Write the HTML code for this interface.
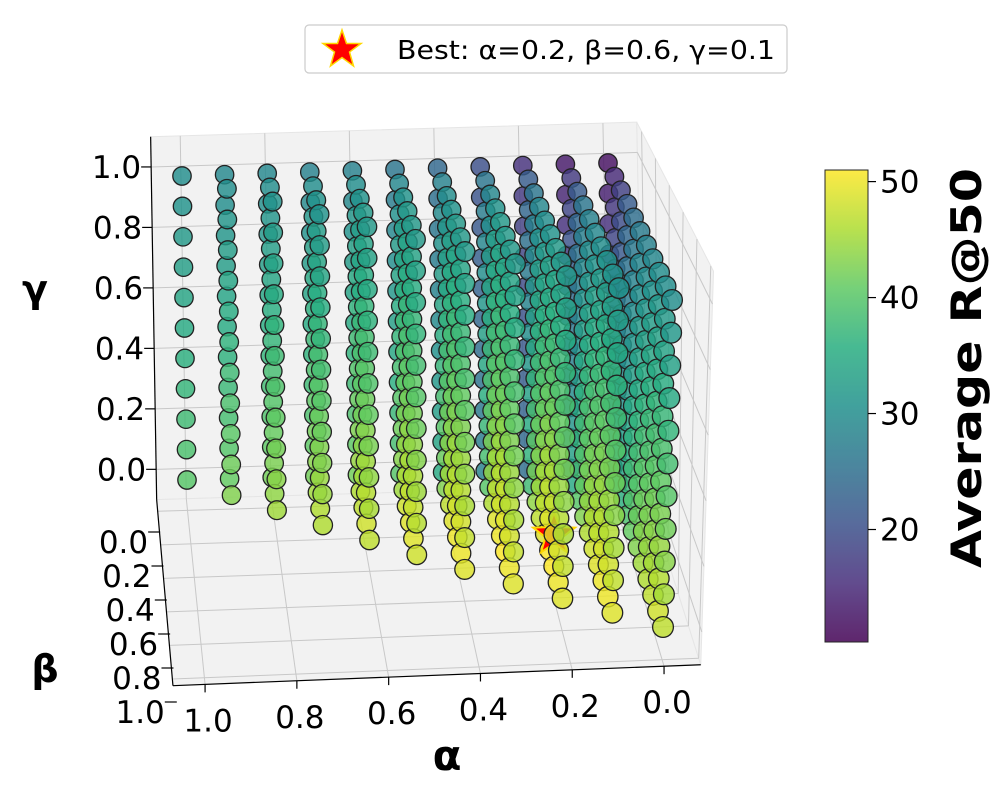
<!DOCTYPE html>
<html><head><meta charset="utf-8"><style>
html,body{margin:0;padding:0;background:#fff;}
svg{display:block;font-family:"DejaVu Sans","Liberation Sans",sans-serif;}
</style></head><body>
<svg id="chart" width="997" height="812" viewBox="0 0 997 812" xmlns="http://www.w3.org/2000/svg">
<defs>
<linearGradient id="viridis" x1="0" y1="1" x2="0" y2="0">
<stop offset="0" stop-color="#440154"/><stop offset="0.125" stop-color="#472d7b"/><stop offset="0.25" stop-color="#3b528b"/><stop offset="0.375" stop-color="#2c728e"/><stop offset="0.5" stop-color="#21918c"/><stop offset="0.625" stop-color="#28ae80"/><stop offset="0.75" stop-color="#5ec962"/><stop offset="0.875" stop-color="#addc30"/><stop offset="1" stop-color="#fde725"/>
</linearGradient>
</defs>
<g id="panes"></g>
<g id="grid"></g>
<g id="points"></g>
<g id="ticks" font-size="31" fill="#000"></g>
<text x="35" y="302" font-size="38" font-weight="bold" text-anchor="middle">γ</text>
<text x="45" y="682" font-size="38" font-weight="bold" text-anchor="middle">β</text>
<text x="447" y="770" font-size="42" font-weight="bold" text-anchor="middle">α</text>
<g>
<rect x="305" y="25" width="482" height="48" rx="4" fill="#fff" stroke="#ccc" stroke-width="1.2"/>
<polygon points="342,30 346.5,43.5 361,43.5 349.5,52 353.5,66 342,57.5 330.5,66 334.5,52 323,43.5 337.5,43.5" fill="#ff0000" stroke="#ffd700" stroke-width="1.5"/>
<text x="397" y="59" font-size="26" textLength="378" lengthAdjust="spacingAndGlyphs">Best: α=0.2, β=0.6, γ=0.1</text>
</g>
<g>
<rect x="825" y="170" width="43" height="472" fill="url(#viridis)" opacity="0.85" stroke="#000" stroke-width="1"/>
<g id="cbticks" font-size="31"></g>
<text transform="translate(981,368) rotate(-90)" font-size="42" font-weight="bold" text-anchor="middle" textLength="400" lengthAdjust="spacingAndGlyphs">Average R@50</text>
</g>
</svg>
<script>
// data: values at gamma=0 (low) and gamma=1 (high) per alpha index (alpha=i/10), beta index j
const lowVals = [
 [30,33,36,39,41,43,45,46,47,48,47],
 [26,35,40,43,46,48,49,50,50,49],
 [25,38,44,47,49,51,51,50,49],
 [28,40,46,49,50,51,50,49],
 [35,43,47,49,50,50,49],
 [40,45,48,49,49,48],
 [42,46,47,48,47],
 [42,45,46,46],
 [42,44,45],
 [41,43],
 [40]
];
const highVals = [
 [12,15,18,22,25,27,28,29,30,30,30],
 [13,17,22,26,28,29,30,31,31,31],
 [16,22,26,29,30,31,32,32,32],
 [20,26,29,31,32,32,32,32],
 [24,28,30,31,32,32,32],
 [26,29,31,32,32,32],
 [28,30,31,32,32],
 [28,30,31,31],
 [29,30,31],
 [29,30],
 [30]
];
const gammaLevels = [0,0.1,0.2,0.3,0.4,0.5,0.6,0.7,0.8,0.9,1.0];
const gammaTicks = ["0.0","0.2","0.4","0.6","0.8","1.0"];
const betaTicks = ["0.0","0.2","0.4","0.6","0.8","1.0"];
const alphaTicks = ["0.0","0.2","0.4","0.6","0.8","1.0"];
const cbTicks = [20,30,40,50];
const best = [0.2,0.6,0.1];
const vmin = 10.3, vmax = 51;

const C = {
 '000':[613,467],'001':[608,163],'010':[663,627],'011':[672,300],
 '100':[187,480],'101':[182,176],'110':[204,645],'111':[200,318]
};
function P(a,b,g){
 let x=0,y=0;
 for(const ia of [0,1])for(const ib of [0,1])for(const ig of [0,1]){
  const w=(ia?a:1-a)*(ib?b:1-b)*(ig?g:1-g);
  const c=C[''+ia+ib+ig]; x+=w*c[0]; y+=w*c[1];
 }
 return [x,y];
}
const NS="http://www.w3.org/2000/svg";
function mk(tag,attrs,parent){const e=document.createElementNS(NS,tag);for(const k in attrs)e.setAttribute(k,attrs[k]);parent.appendChild(e);return e;}
const vir=[[68,1,84],[71,45,123],[59,82,139],[44,114,142],[33,145,140],[40,174,128],[94,201,98],[173,220,48],[253,231,37]];
function cmap(v){let t=(v-vmin)/(vmax-vmin);t=Math.max(0,Math.min(1,t))*8;const i=Math.min(7,Math.floor(t)),f=t-i;
 const c=vir[i].map((x,k)=>Math.round(x+(vir[i+1][k]-x)*f));return `rgb(${c[0]},${c[1]},${c[2]})`;}

const panes=document.getElementById('panes');
const a0=-0.08,a1=1.07,b0=-0.07,b1=1.04,g0=-0.1,g1=1.1;
function poly(pts,name){const e=mk('polygon',{points:pts.map(p=>p.join(',')).join(' '),fill:'#f2f2f2',stroke:'#e6e6e6','stroke-width':1},panes);
 
 }
poly([P(a1,b0,g1),P(a0,b0,g1),P(a0,b0,g0),P(a1,b0,g0)],'back-pane');
poly([P(a1,b0,g0),P(a0,b0,g0),P(a0,b1,g0),P(a1,b1,g0)],'floor-pane');
poly([P(a0,b0,g1),P(a0,b1,g1),P(a0,b1,g0),P(a0,b0,g0)],'right-pane');
const grid=document.getElementById('grid');
function line(p,q,name,col,w){const e=mk('line',{x1:p[0],y1:p[1],x2:q[0],y2:q[1],stroke:col||'#c8c8c8','stroke-width':w||1},grid);
 
 }
for(const s of alphaTicks){const a=+s;line(P(a,b0,g1),P(a,b0,g0),'alpha-grid-back');line(P(a,b0,g0),P(a,b1,g0),'alpha-grid-floor');}
for(const s of gammaTicks){const g=+s;line(P(a1,b0,g),P(a0,b0,g),'gamma-grid-back');line(P(a0,b0,g),P(a0,b1,g),'gamma-grid-right');}
for(const s of betaTicks){const b=+s;line(P(a1,b,g0),P(a0,b,g0),'beta-grid-floor');line(P(a0,b,g0),P(a0,b,g1),'beta-grid-right');}
line(P(a1,b0,g0),P(a1,b0,g1),'gamma-axis-line','#000',1.2);
line(P(a1,b0,g0),P(a1,b1,g0),'beta-axis-line','#000',1.2);
line(P(a1,b1,g0),P(a0,b1,g0),'alpha-axis-line','#000',1.2);
const tk=document.getElementById('ticks');
function txt(x,y,s,anchor,name,parent){const e=mk('text',{x:x,y:y,'text-anchor':anchor},parent||tk);e.textContent=s;
 
 return e;}
for(const s of gammaTicks){const p=P(a1,b0,+s);line([p[0],p[1]],[p[0]-10,p[1]],'gamma-tick','#000',1.2);txt(p[0]-10,p[1]+11,s,'end','gamma-tick-label');}
for(const s of betaTicks){const b=+s;const y=532+b*170;const x=157+(y-500)*0.098;
 line([x,y],[x-12,y],'beta-tick','#000',1.2);txt(x-12,y+21,s,'end','beta-tick-label');}
for(const s of alphaTicks){const p=P(+s,b1,g0);line([p[0],p[1]],[p[0],p[1]+8],'alpha-tick','#000',1.2);txt(p[0]+3,p[1]+47,s,'middle','alpha-tick-label');}
const cbt=document.getElementById('cbticks');
for(const v of cbTicks){const y=642-(v-vmin)/(vmax-vmin)*472;line([868,y],[876,y],'colorbar-tick','#000',1.2);txt(880,y+11,String(v),'start','colorbar-tick-label',cbt);}
const pts=document.getElementById('points');
const items=[];
for(let i=0;i<lowVals.length;i++)for(let j=0;j<lowVals[i].length;j++)for(let k=0;k<gammaLevels.length;k++){
 const g=gammaLevels[k];const v=lowVals[i][j]+(highVals[i][j]-lowVals[i][j])*g;
 items.push({a:i/10,b:j/10,g:g,v:v});
}
items.push({a:best[0],b:best[1],g:best[2],star:true});
items.sort((p,q)=>(p.b-q.b)||(q.a-p.a)||(p.star?-1:0));
for(const it of items){
 const p=P(it.a,it.b,it.g);const r=9.2+it.b*1.2;
 if(it.star){
  const s=[];for(let n=0;n<10;n++){const ang=-Math.PI/2+n*Math.PI/5;const rr=n%2?9:22;s.push((p[0]+rr*Math.cos(ang)).toFixed(1)+','+(p[1]+rr*Math.sin(ang)).toFixed(1));}
  const e=mk('polygon',{points:s.join(' '),fill:'#ff0000',stroke:'#ffd700','stroke-width':2},pts);
  
  
 } else {
  const e=mk('circle',{cx:p[0].toFixed(1),cy:p[1].toFixed(1),r:r.toFixed(1),fill:cmap(it.v),'fill-opacity':0.82,stroke:'#222','stroke-width':1.3},pts);
  
  
 }
}
</script>
</body></html>
